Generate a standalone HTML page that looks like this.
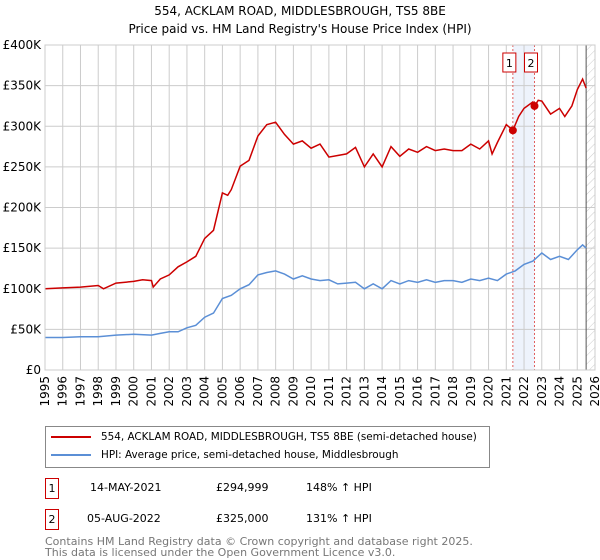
<!DOCTYPE html>
<html><head><meta charset="utf-8"><style>
body{margin:0;background:#fff;font-family:"DejaVu Sans","Liberation Sans",sans-serif;}
#wrap{position:relative;width:600px;height:560px;overflow:hidden}
.t{position:absolute;font-size:12px;color:#000;white-space:nowrap}
svg text{font-family:"DejaVu Sans","Liberation Sans",sans-serif}
</style></head><body><div id="wrap">
<div class="t" style="left:0;width:600px;text-align:center;top:2px;font-size:12px;line-height:18px">554, ACKLAM ROAD, MIDDLESBROUGH, TS5 8BE<br>Price paid vs. HM Land Registry's House Price Index (HPI)</div>
<svg id="c" width="600" height="420" style="position:absolute;left:0;top:0"></svg>
<div style="position:absolute;left:45px;top:426px;width:443px;height:40px;border:1px solid #888">
 <div style="position:absolute;left:5px;top:4px;font-size:10.4px;white-space:nowrap"><span style="display:inline-block;width:40px;height:2px;background:#cc0000;vertical-align:middle;margin-right:10px"></span>554, ACKLAM ROAD, MIDDLESBROUGH, TS5 8BE (semi-detached house)</div>
 <div style="position:absolute;left:5px;top:22px;font-size:10.4px;white-space:nowrap"><span style="display:inline-block;width:40px;height:2px;background:#5b8fd6;vertical-align:middle;margin-right:10px"></span>HPI: Average price, semi-detached house, Middlesbrough</div>
</div>
<div>
<div class="t" style="left:45px;top:478px;width:12px;height:19px;border:1px solid #cc0000;text-align:center;line-height:19px;font-size:11px">1</div>
<div class="t" style="left:90px;top:481px;font-size:11px">14-MAY-2021</div>
<div class="t" style="left:216px;top:481px;font-size:11px">£294,999</div>
<div class="t" style="left:306px;top:481px;font-size:11px">148% ↑ HPI</div>
</div>
<div>
<div class="t" style="left:45px;top:509px;width:12px;height:19px;border:1px solid #cc0000;text-align:center;line-height:19px;font-size:11px">2</div>
<div class="t" style="left:87px;top:512px;font-size:11px">05-AUG-2022</div>
<div class="t" style="left:216px;top:512px;font-size:11px">£325,000</div>
<div class="t" style="left:306px;top:512px;font-size:11px">131% ↑ HPI</div>
</div>
<div class="t" style="left:45px;top:536px;font-size:11px;color:#777;line-height:11px">Contains HM Land Registry data © Crown copyright and database right 2025.<br>This data is licensed under the Open Government Licence v3.0.</div>
</div>
<script>
const yTicks=[0,50,100,150,200,250,300,350,400];
const yLabels=["£0","£50K","£100K","£150K","£200K","£250K","£300K","£350K","£400K"];
const xYears=[1995,1996,1997,1998,1999,2000,2001,2002,2003,2004,2005,2006,2007,2008,2009,2010,2011,2012,2013,2014,2015,2016,2017,2018,2019,2020,2021,2022,2023,2024,2025,2026];
const hpiT=[1995,1996,1997,1998,1999,2000,2001,2001.5,2002,2002.5,2003,2003.5,2004,2004.5,2005,2005.5,2006,2006.5,2007,2007.5,2008,2008.5,2009,2009.5,2010,2010.5,2011,2011.5,2012,2012.5,2013,2013.5,2014,2014.5,2015,2015.5,2016,2016.5,2017,2017.5,2018,2018.5,2019,2019.5,2020,2020.5,2021,2021.5,2022,2022.5,2023,2023.5,2024,2024.5,2025,2025.3,2025.5];
const hpiV=[40,40,41,41,43,44,43,45,47,47,52,55,65,70,88,92,100,105,117,120,122,118,112,116,112,110,111,106,107,108,100,106,100,110,106,110,108,111,108,110,110,108,112,110,113,110,118,122,130,134,144,136,140,136,148,154,150];
const priceT=[1995,1996,1997,1998,1998.3,1999,2000,2000.5,2001,2001.1,2001.5,2002,2002.5,2003,2003.5,2004,2004.5,2005,2005.3,2005.5,2006,2006.5,2007,2007.5,2008,2008.5,2009,2009.5,2010,2010.5,2011,2011.5,2012,2012.5,2013,2013.5,2014,2014.5,2015,2015.5,2016,2016.5,2017,2017.5,2018,2018.5,2019,2019.5,2020,2020.2,2020.5,2021,2021.37,2021.7,2022,2022.5,2022.6,2022.8,2023,2023.5,2024,2024.3,2024.7,2025,2025.3,2025.5];
const priceV=[100,101,102,104,100,107,109,111,110,102,112,117,127,133,140,162,172,218,215,222,251,258,288,302,305,290,278,282,273,278,262,264,266,274,250,266,250,275,263,272,268,275,270,272,270,270,278,272,282,266,280,302,295,312,322,330,325,332,331,315,322,312,325,345,358,347];
const saleT=[2021.37,2022.59];
const saleV=[295,325];
const saleLabels=["1","2"];
const L=45,R=595,T=45,B=370,x0=1995,x1=2026,yMax=400;
const X=t=>L+(t-x0)/(x1-x0)*(R-L);
const Y=v=>B-v/yMax*(B-T);
const svg=document.getElementById('c');const NS="http://www.w3.org/2000/svg";
function mk(tag,a,parent){const e=document.createElementNS(NS,tag);for(const k in a)e.setAttribute(k,a[k]);(parent||svg).appendChild(e);return e;}
let band=mk('rect',{x:X(saleT[0]),y:T,width:X(saleT[1])-X(saleT[0]),height:B-T,fill:'#eef3fc'});


const defs=mk('defs',{});const pat=mk('pattern',{id:'h',width:6,height:6,patternUnits:'userSpaceOnUse',patternTransform:'rotate(45)'},defs);
mk('line',{x1:0,y1:0,x2:0,y2:6,stroke:'#ccc','stroke-width':1},pat);
let hat=mk('rect',{x:X(2025.5),y:T,width:R-X(2025.5),height:B-T,fill:'url(#h)'});


xYears.forEach(y=>{let l=mk('line',{x1:X(y),x2:X(y),y1:T,y2:B,stroke:'#ccc'});


let t=mk('text',{x:0,y:0,'font-size':12,'text-anchor':'end',transform:`translate(${X(y)+4},${B+6}) rotate(-90)`,fill:'#000'});t.textContent=y;

});
yTicks.forEach((v,i)=>{let l=mk('line',{x1:L,x2:R,y1:Y(v),y2:Y(v),stroke:'#ccc'});


let t=mk('text',{x:L-4,y:Y(v)+4,'font-size':12,'text-anchor':'end',fill:'#000'});t.textContent=yLabels[i];

});
let vl=mk('line',{x1:X(2025.5),x2:X(2025.5),y1:T,y2:B,stroke:'#555'});


saleT.forEach((t,i)=>{let l=mk('line',{x1:X(t),x2:X(t),y1:T,y2:B,stroke:'#e06060','stroke-dasharray':'2,2'});


let r=mk('rect',{x:X(t)-10,y:53,width:13,height:19,fill:'#fff',stroke:'#cc0000'});


let tx=mk('text',{x:X(t)-3.5,y:67,'font-size':11,'text-anchor':'middle'});tx.textContent=saleLabels[i];

});
const path=(ts,vs)=>ts.map((t,i)=>(i?'L':'M')+X(t).toFixed(1)+','+Y(vs[i]).toFixed(1)).join('');
let h=mk('path',{d:path(hpiT,hpiV),fill:'none',stroke:'#5b8fd6','stroke-width':1.5});


let p=mk('path',{d:path(priceT,priceV),fill:'none',stroke:'#cc0000','stroke-width':1.5});


saleT.forEach((t,i)=>{let c=mk('circle',{cx:X(t),cy:Y(saleV[i]),r:4,fill:'#cc0000'});

});
let ax=mk('rect',{x:L,y:T,width:R-L,height:B-T,fill:'none',stroke:'#ccc'});


</script></body></html>
